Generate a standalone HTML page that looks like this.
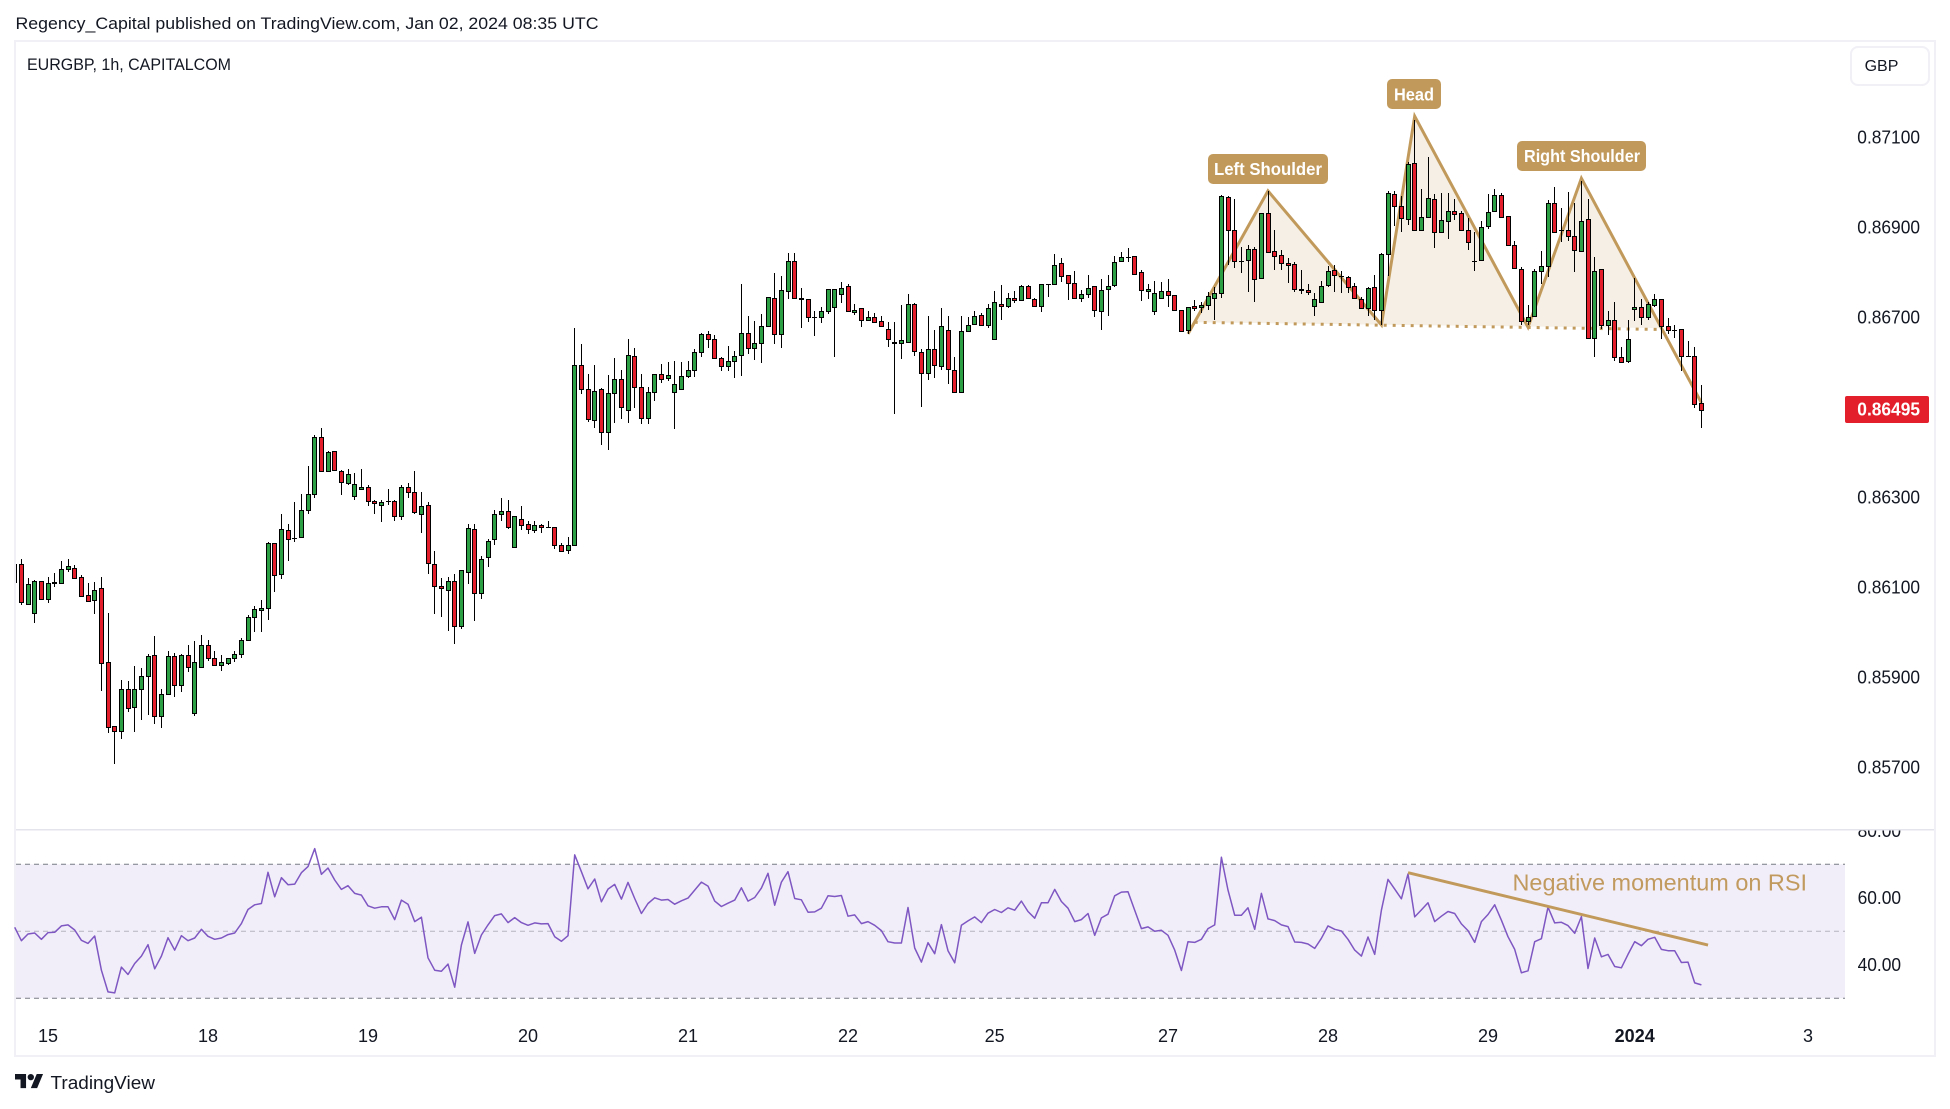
<!DOCTYPE html>
<html lang="en">
<head>
<meta charset="utf-8">
<title>EURGBP 1h chart</title>
<style>
html,body{margin:0;padding:0;background:#fff;width:1950px;height:1109px;overflow:hidden}
svg{display:block}
text{font-family:"Liberation Sans",sans-serif;fill:#131722}
</style>
</head>
<body>
<svg id="chart" xmlns="http://www.w3.org/2000/svg" width="1950" height="1109" viewBox="0 0 1950 1109">
  <defs>
    <clipPath id="pane-clip"><rect x="16" y="42" width="1918" height="1013"/></clipPath>
    <clipPath id="rsi-axis-clip"><rect x="1846" y="830.5" width="88" height="200"/></clipPath>
  </defs>
  <rect x="0" y="0" width="1950" height="1109" fill="#ffffff"/>
  <text x="15.5" y="29" font-size="17" textLength="583" lengthAdjust="spacingAndGlyphs">Regency_Capital published on TradingView.com, Jan 02, 2024 08:35 UTC</text>
  <rect x="15" y="41" width="1920" height="1015" fill="none" stroke="#f0f0f6" stroke-width="2"/>
  <rect x="16" y="829" width="1918" height="1.5" fill="#e4e4ec"/>
  <text x="27" y="70" font-size="17" textLength="204" lengthAdjust="spacingAndGlyphs">EURGBP, 1h, CAPITALCOM</text>

  <rect x="1851" y="47" width="78" height="38" rx="7" fill="#ffffff" stroke="#f0f0f6" stroke-width="2"/>
  <text x="1881.5" y="71" font-size="16" text-anchor="middle">GBP</text>

  <g id="pattern-layer" clip-path="url(#pane-clip)"></g>
  <g id="candle-layer" clip-path="url(#pane-clip)"></g>

  <g>
    <rect x="1208" y="154" width="120" height="30" rx="5" fill="#c19a5b"/>
    <text x="1214" y="175" font-size="17.5" font-weight="bold" textLength="108" lengthAdjust="spacingAndGlyphs" style="fill:#ffffff">Left Shoulder</text>
    <rect x="1387" y="79" width="54" height="30" rx="5" fill="#c19a5b"/>
    <text x="1394" y="100.5" font-size="17.5" font-weight="bold" textLength="40" lengthAdjust="spacingAndGlyphs" style="fill:#ffffff">Head</text>
    <rect x="1517" y="141" width="129" height="30" rx="5" fill="#c19a5b"/>
    <text x="1524" y="162" font-size="17.5" font-weight="bold" textLength="116" lengthAdjust="spacingAndGlyphs" style="fill:#ffffff">Right Shoulder</text>
  </g>

  <g id="price-axis"></g>
  <rect x="1845" y="396" width="84" height="27" rx="2" fill="#e31f2b"/>
  <text id="last-price-label" x="1857.3" y="415.5" font-size="18" font-weight="bold" textLength="62.7" lengthAdjust="spacingAndGlyphs" style="fill:#ffffff">0.86495</text>

  <g id="rsi-layer"></g>
  <text x="1512.5" y="890.5" font-size="23" textLength="294.5" lengthAdjust="spacingAndGlyphs" style="fill:#c19a5f">Negative momentum on RSI</text>
  <g id="rsi-axis" clip-path="url(#rsi-axis-clip)"></g>
  <g id="time-axis"></g>

  <g>
    <g transform="translate(15,1070.8) scale(0.79)" fill="#131722">
      <path d="M14 22H7V11H0V4h14v18zM28 22h-8l7.5-18h8L28 22z"/>
      <circle cx="20" cy="8" r="4"/>
    </g>
    <text x="50.5" y="1089" font-size="18" textLength="104.5" lengthAdjust="spacingAndGlyphs">TradingView</text>
  </g>
</svg>

<script>
// Prices are in units of 0.00001 (86700 = 0.86700)
const opens = [
86112,86151,86064,86042,86115,86075,86109,86110,86140,86144,
86124,86082,86071,86098,85933,85791,85780,85875,85833,85875,
85902,85949,85815,85862,85947,85884,85949,85820,85922,85971,
85942,85927,85931,85944,85951,85982,86033,86049,86055,86198,
86129,86227,86209,86211,86271,86307,86435,86358,86402,86358,
86331,86302,86318,86322,86291,86284,86291,86291,86258,86322,
86311,86264,86282,86151,86102,86095,86113,86013,86135,86229,
86087,86167,86207,86262,86269,86189,86251,86240,86227,86238,
86235,86235,86193,86182,86195,86593,86540,86471,86540,86446,
86531,86562,86495,86615,86546,86477,86535,86573,86566,86533,
86540,86569,86582,86624,86664,86651,86609,86591,86604,86617,
86666,86631,86644,86680,86744,86662,86758,86826,86742,86740,
86700,86700,86715,86724,86751,86769,86711,86720,86695,86700,
86691,86675,86642,86644,86646,86729,86624,86577,86629,86591,
86671,86584,86533,86669,86686,86706,86682,86651,86729,86726,
86744,86738,86769,86740,86726,86773,86775,86820,86793,86777,
86744,86751,86769,86715,86762,86771,86826,86835,86837,86800,
86758,86713,86744,86758,86749,86717,86671,86725,86722,86727,
86744,86754,86967,86894,86825,86827,86851,86787,86931,86847,
86838,86820,86818,86763,86760,86726,86734,86771,86805,86791,
86789,86769,86740,86720,86767,86716,86840,86974,86947,86919,
87043,86894,86923,86963,86889,86914,86936,86931,86894,86825,
86827,86903,86936,86971,86925,86860,86807,86691,86702,86802,
86813,86953,86893,86893,86880,86847,86918,86655,86807,86684,
86695,86611,86602,86718,86724,86700,86727,86740,86680,86671,
86673,86615,86615,86509];
const highs = [
86152,86163,86120,86116,86115,86122,86131,86158,86164,86149,
86127,86109,86111,86124,86042,85791,85895,85891,85925,85921,
85952,85992,85875,85958,85955,85952,85971,85980,85993,85984,
85958,85950,85944,85958,85987,86038,86058,86072,86201,86198,
86263,86240,86289,86307,86370,86438,86455,86402,86404,86360,
86364,86355,86362,86327,86295,86295,86318,86295,86327,86331,
86358,86311,86289,86180,86120,86122,86129,86138,86240,86240,
86169,86207,86271,86298,86293,86258,86280,86247,86247,86240,
86247,86235,86198,86211,86677,86640,86574,86595,86544,86572,
86609,86583,86651,86631,86575,86546,86575,86597,86600,86602,
86600,86602,86629,86666,86669,86660,86611,86637,86626,86775,
86704,86691,86707,86746,86798,86792,86844,86844,86766,86740,
86713,86722,86764,86762,86778,86773,86729,86720,86715,86709,
86704,86689,86689,86727,86751,86731,86629,86702,86671,86720,
86702,86611,86702,86700,86713,86709,86729,86758,86771,86753,
86758,86771,86771,86744,86775,86775,86840,86831,86793,86802,
86760,86793,86769,86786,86793,86837,86846,86855,86837,86806,
86773,86780,86778,86786,86749,86717,86722,86738,86734,86756,
86767,86971,86969,86963,86856,86860,86856,86931,86980,86894,
86849,86831,86823,86805,86774,86754,86780,86814,86816,86803,
86791,86776,86745,86767,86794,86843,86980,86980,86969,87045,
87139,86985,87056,86974,86976,86976,86963,86936,86920,86889,
86914,86974,86985,86976,86925,86869,86811,86727,86807,86847,
86960,86989,86942,86978,86955,87002,86964,86833,86807,86713,
86733,86633,86693,86787,86740,86735,86751,86740,86698,86682,
86675,86647,86633,86549];
const lows = [
86112,86061,86061,86021,86073,86066,86101,86110,86134,86121,
86079,86069,86041,85870,85777,85708,85764,85824,85779,85805,
85816,85797,85787,85862,85857,85868,85912,85814,85922,85937,
85927,85915,85928,85934,85944,85982,86001,86001,86027,86090,
86119,86159,86201,86211,86264,86299,86358,86358,86358,86306,
86328,86293,86318,86281,86264,86246,86283,86248,86250,86299,
86264,86221,86130,86041,86033,86004,85975,86008,86108,86026,
86075,86146,86195,86248,86230,86187,86228,86219,86221,86221,
86231,86186,86180,86173,86195,86529,86468,86455,86417,86406,
86466,86475,86466,86499,86463,86463,86515,86553,86559,86452,
86540,86566,86568,86611,86632,86609,86581,86581,86566,86570,
86618,86606,86599,86680,86640,86632,86741,86743,86677,86690,
86659,86688,86707,86612,86731,86713,86706,86679,86691,86689,
86680,86635,86486,86607,86646,86615,86501,86561,86566,86583,
86552,86532,86533,86669,86682,86680,86677,86651,86695,86721,
86731,86738,86742,86726,86712,86746,86775,86779,86739,86742,
86735,86742,86701,86672,86703,86768,86824,86824,86793,86737,
86741,86706,86740,86723,86717,86669,86664,86715,86710,86717,
86693,86742,86816,86809,86799,86757,86733,86787,86845,86806,
86806,86777,86757,86751,86749,86704,86734,86767,86756,86755,
86755,86743,86718,86702,86694,86683,86791,86902,86889,86906,
86894,86894,86923,86855,86887,86873,86916,86891,86849,86804,
86827,86896,86936,86920,86860,86807,86683,86682,86702,86775,
86790,86887,86867,86869,86801,86847,86655,86611,86673,86660,
86602,86598,86598,86691,86682,86693,86722,86651,86662,86653,
86580,86613,86498,86455];
const closes = [
86152,86067,86107,86113,86075,86109,86111,86140,86147,86121,
86081,86069,86095,85931,85790,85781,85875,85831,85875,85902,
85947,85813,85862,85947,85882,85949,85922,85933,85971,85942,
85927,85933,85944,85951,85982,86033,86051,86055,86198,86127,
86229,86207,86209,86271,86307,86435,86358,86400,86360,86333,
86351,86329,86324,86291,86287,86289,86291,86258,86322,86311,
86267,86280,86153,86102,86098,86115,86013,86138,86231,86087,
86164,86204,86262,86269,86233,86258,86238,86229,86238,86233,
86235,86195,86180,86195,86593,86540,86473,86537,86446,86531,
86562,86500,86617,86546,86477,86533,86575,86564,86571,86551,
86569,86582,86624,86662,86651,86609,86591,86602,86615,86666,
86631,86644,86680,86746,86662,86760,86826,86743,86740,86700,
86700,86713,86764,86762,86766,86713,86717,86693,86700,86689,
86680,86651,86646,86649,86729,86626,86577,86629,86593,86680,
86586,86535,86669,86684,86704,86684,86720,86735,86726,86744,
86738,86769,86742,86726,86773,86773,86817,86791,86777,86744,
86751,86766,86717,86760,86769,86824,86835,86835,86797,86760,
86764,86755,86758,86749,86717,86669,86722,86720,86727,86747,
86754,86969,86894,86825,86825,86851,86785,86931,86845,86836,
86820,86816,86763,86760,86756,86740,86769,86803,86794,86791,
86767,86743,86720,86765,86716,86840,86976,86947,86920,87040,
86894,86923,86965,86889,86916,86936,86929,86894,86867,86825,
86900,86934,86971,86923,86860,86809,86691,86700,86802,86813,
86953,86889,86893,86880,86849,86915,86655,86804,86682,86695,
86611,86600,86651,86724,86700,86729,86740,86680,86671,86671,
86615,86615,86507,86495];
const rsiValues = [
51.2,47.2,49.2,49.5,47.6,49.6,49.7,51.6,51.9,50.4,
47.3,46.4,48.6,38.4,31.9,31.6,39.3,37.1,40.4,42.6,
46.0,38.8,42.6,48.1,44.4,48.7,47.2,48.0,50.6,48.5,
47.6,48.0,49.0,49.5,52.3,56.5,57.9,58.3,67.6,60.3,
66.0,63.9,64.1,67.5,69.3,74.7,67.0,68.9,65.3,62.5,
63.6,61.3,60.8,57.6,56.9,57.3,57.3,53.5,59.3,58.1,
52.9,54.2,42.1,38.4,38.1,40.2,33.3,45.9,52.8,43.4,
48.9,51.9,54.7,55.2,52.6,54.1,52.6,51.8,52.5,52.2,
52.3,48.4,47.0,48.7,72.8,67.8,62.7,65.6,58.8,62.6,
64.0,59.6,64.6,59.8,55.3,58.3,60.0,59.3,59.5,58.1,
59.1,59.9,62.3,64.7,63.5,59.0,57.4,58.4,59.3,63.0,
59.0,60.1,62.9,67.3,57.8,64.7,67.8,59.8,59.4,55.7,
55.8,56.9,60.6,60.4,60.7,54.5,54.9,52.3,52.9,51.8,
50.2,46.9,46.5,46.5,57.1,45.0,40.8,46.6,43.3,52.0,
44.2,40.6,51.8,53.1,54.3,52.6,55.4,56.5,55.6,57.0,
56.3,59.0,55.9,53.9,58.5,58.5,62.5,58.9,56.9,52.9,
53.5,55.3,48.8,54.0,55.1,60.6,61.7,61.8,56.3,50.8,
51.3,50.0,50.3,48.8,44.4,38.3,46.9,46.7,47.6,50.8,
51.9,72.1,62.3,54.8,54.8,57.0,50.6,61.3,53.7,53.2,
51.9,51.4,46.8,46.7,46.2,44.9,47.9,51.6,50.6,50.1,
47.6,44.4,42.6,48.3,43.1,56.3,65.5,62.6,59.7,67.1,
54.3,56.4,58.5,52.9,54.5,55.9,55.3,52.2,50.2,46.7,
52.9,55.0,57.9,53.3,48.4,44.6,37.6,38.2,46.9,47.8,
57.2,52.5,52.7,51.7,49.4,54.4,38.9,48.0,42.4,43.1,
39.5,39.1,43.1,46.9,45.7,47.6,48.2,44.6,44.2,44.2,
40.7,40.8,34.6,34.0];
const priceTicks = [87100,86900,86700,86300,86100,85900,85700];
const rsiTicks = [80,60,40];
const rsiBands = [70,50,30];
const dateLabels = ["15","18","19","20","21","22","25","27","28","29","2024","3"];
const dateBars = [5,29,53,77,101,125,147,173,197,221,243,269];
const patternBars = [176,188,205,210,227,235,247];
const patternPrices = [86663,86981,86683,87147,86678,87009,86676];
const patternTailBar = [253];
const patternTailPrice = [86510];
const necklineBars = [177,246.3];
const necklinePrices = [86689,86673];
const rsiTrendBars = [209,254];
const rsiTrendValues = [67.5,45.9];

const NS = 'http://www.w3.org/2000/svg';
function xScale(i){ return 14.7 + 6.6667 * i; }
function yPrice(p){ return 317.3 - (p - 86700) * 0.45; }
function yRsi(v){ return 931.3 - (v - 50) * 3.35; }
const TAN = '#c19a5b';

// Pattern drawing
const patternLayer = document.getElementById('pattern-layer');
const ptPath = patternBars.map((b,k)=>xScale(b).toFixed(1)+','+yPrice(patternPrices[k]).toFixed(1));
const neckPts = necklineBars.map((b,k)=>xScale(b).toFixed(1)+','+yPrice(necklinePrices[k]).toFixed(1));
const patternFill = document.createElementNS(NS,'polygon');


patternFill.setAttribute('points', ptPath.join(' ')+' '+neckPts[0]);
patternFill.setAttribute('fill','rgba(193,154,91,0.16)');
patternLayer.appendChild(patternFill);
const neckLine = document.createElementNS(NS,'polyline');


neckLine.setAttribute('points', neckPts.join(' '));
neckLine.setAttribute('fill','none');
neckLine.setAttribute('stroke',TAN);
neckLine.setAttribute('stroke-width','3');
neckLine.setAttribute('stroke-dasharray','3 6');
patternLayer.appendChild(neckLine);
const patternLine = document.createElementNS(NS,'polyline');


const outlinePts = ptPath.slice(0,6).concat([xScale(patternTailBar[0]).toFixed(1)+','+yPrice(patternTailPrice[0]).toFixed(1)]);
patternLine.setAttribute('points', outlinePts.join(' '));
patternLine.setAttribute('fill','none');
patternLine.setAttribute('stroke',TAN);
patternLine.setAttribute('stroke-width','3');
patternLine.setAttribute('stroke-linejoin','miter');
patternLayer.appendChild(patternLine);

// Candles
const candleLayer = document.getElementById('candle-layer');
for (let i = 0; i < opens.length; i++) {
  const o = opens[i], c = closes[i];
  const px = Math.floor(xScale(i));
  const g = document.createElementNS(NS,'g');
  
  
  const wick = document.createElementNS(NS,'rect');
  
  
  const wt = Math.round(yPrice(highs[i])), wb = Math.round(yPrice(lows[i]));
  wick.setAttribute('x',px);
  wick.setAttribute('y',wt);
  wick.setAttribute('width',1);
  wick.setAttribute('height',Math.max(1,wb-wt));
  wick.setAttribute('fill','#000000');
  g.appendChild(wick);
  const top = Math.round(yPrice(Math.max(o,c))), bot = Math.round(yPrice(Math.min(o,c)));
  const body = document.createElementNS(NS,'rect');
  
  
  if (bot <= top) {
    body.setAttribute('x',px-2);
    body.setAttribute('y',top);
    body.setAttribute('width',5);
    body.setAttribute('height',1);
    body.setAttribute('fill','#000000');
  } else {
    body.setAttribute('x',px-1.5);
    body.setAttribute('y',top+0.5);
    body.setAttribute('width',4);
    body.setAttribute('height',bot-top);
    body.setAttribute('fill',c >= o ? '#2c9f45' : '#e41e2b');
    body.setAttribute('stroke','#000000');
    body.setAttribute('stroke-width',1);
  }
  g.appendChild(body);
  candleLayer.appendChild(g);
}

// Price axis
const priceAxis = document.getElementById('price-axis');
priceTicks.forEach(function(p){
  const t = document.createElementNS(NS,'text');
  
  
  t.setAttribute('x',1857.3);
  t.setAttribute('y',(yPrice(p)+6.3).toFixed(1));
  t.setAttribute('font-size',18);
  t.setAttribute('textLength',62.7);
  t.setAttribute('lengthAdjust','spacingAndGlyphs');
  t.textContent = (p/100000).toFixed(5);
  priceAxis.appendChild(t);
});

// Last price label follows the final close
const lastLabel = document.getElementById('last-price-label');
lastLabel.textContent = (closes[closes.length-1]/100000).toFixed(5);

// RSI pane
const rsiLayer = document.getElementById('rsi-layer');
const bandRect = document.createElementNS(NS,'rect');


bandRect.setAttribute('x',16);
bandRect.setAttribute('y',yRsi(rsiBands[0]));
bandRect.setAttribute('width',1829);
bandRect.setAttribute('height',yRsi(rsiBands[2])-yRsi(rsiBands[0]));
bandRect.setAttribute('fill','#f2eef9');
rsiLayer.appendChild(bandRect);
rsiBands.forEach(function(v){
  const l = document.createElementNS(NS,'line');
  
  
  l.setAttribute('x1',16);
  l.setAttribute('x2',1845);
  l.setAttribute('y1',yRsi(v));
  l.setAttribute('y2',yRsi(v));
  l.setAttribute('stroke', v === 50 ? '#b4b4be' : '#787b86');
  l.setAttribute('stroke-width',1);
  l.setAttribute('stroke-dasharray','5 4');
  rsiLayer.appendChild(l);
});
const rsiLine = document.createElementNS(NS,'polyline');


rsiLine.setAttribute('points', rsiValues.map((v,i)=>xScale(i).toFixed(1)+','+yRsi(v).toFixed(1)).join(' '));
rsiLine.setAttribute('fill','none');
rsiLine.setAttribute('stroke','#7e57c2');
rsiLine.setAttribute('stroke-width','1.5');
rsiLine.setAttribute('stroke-linejoin','round');
rsiLayer.appendChild(rsiLine);
const rsiTrend = document.createElementNS(NS,'line');


rsiTrend.setAttribute('x1',xScale(rsiTrendBars[0]));
rsiTrend.setAttribute('y1',yRsi(rsiTrendValues[0]));
rsiTrend.setAttribute('x2',xScale(rsiTrendBars[1]));
rsiTrend.setAttribute('y2',yRsi(rsiTrendValues[1]));
rsiTrend.setAttribute('stroke',TAN);
rsiTrend.setAttribute('stroke-width','3');
rsiLayer.appendChild(rsiTrend);

// RSI axis
const rsiAxis = document.getElementById('rsi-axis');
rsiTicks.forEach(function(v){
  const t = document.createElementNS(NS,'text');
  
  
  t.setAttribute('x',1857.6);
  t.setAttribute('y',(yRsi(v)+6.3).toFixed(1));
  t.setAttribute('font-size',18);
  t.setAttribute('textLength',43.5);
  t.setAttribute('lengthAdjust','spacingAndGlyphs');
  t.textContent = v.toFixed(2);
  rsiAxis.appendChild(t);
});

// Time axis
const timeAxis = document.getElementById('time-axis');
dateLabels.forEach(function(label,k){
  const t = document.createElementNS(NS,'text');
  
  
  t.setAttribute('x',xScale(dateBars[k]).toFixed(1));
  t.setAttribute('y',1042);
  t.setAttribute('font-size',18);
  t.setAttribute('text-anchor','middle');
  if (label === '2024') t.setAttribute('font-weight','bold');
  t.textContent = label;
  timeAxis.appendChild(t);
});
</script>
</body>
</html>
